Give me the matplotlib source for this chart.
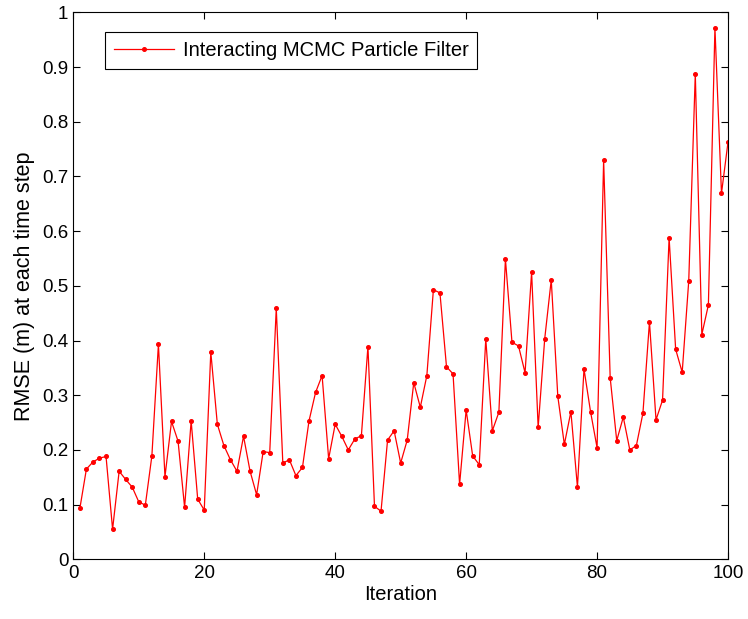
import matplotlib
matplotlib.use("Agg")
import matplotlib.pyplot as plt
import numpy as np

iterations = np.arange(1, 101)
rmse = [
    0.093, 0.165, 0.178, 0.185, 0.188, 0.055, 0.161, 0.146, 0.132, 0.105,
    0.099, 0.189, 0.393, 0.151, 0.252, 0.216, 0.095, 0.253, 0.110, 0.090,
    0.379, 0.247, 0.208, 0.182, 0.161, 0.225, 0.161, 0.118, 0.197, 0.195,
    0.459, 0.176, 0.182, 0.153, 0.168, 0.253, 0.305, 0.336, 0.184, 0.247,
    0.225, 0.200, 0.220, 0.226, 0.389, 0.097, 0.088, 0.218, 0.235, 0.176,
    0.218, 0.323, 0.278, 0.336, 0.493, 0.487, 0.352, 0.339, 0.137, 0.273,
    0.189, 0.173, 0.403, 0.235, 0.269, 0.549, 0.397, 0.390, 0.341, 0.525,
    0.241, 0.403, 0.511, 0.298, 0.210, 0.270, 0.132, 0.348, 0.270, 0.204,
    0.730, 0.332, 0.217, 0.260, 0.200, 0.208, 0.267, 0.434, 0.255, 0.291,
    0.588, 0.384, 0.342, 0.509, 0.888, 0.411, 0.465, 0.972, 0.669, 0.763,
]
x_ticks = [0, 20, 40, 60, 80, 100]
y_ticks = [0, 0.1, 0.2, 0.3, 0.4, 0.5, 0.6, 0.7, 0.8, 0.9, 1]
y_tick_labels = ["0", "0.1", "0.2", "0.3", "0.4", "0.5", "0.6", "0.7", "0.8", "0.9", "1"]

plt.rcParams["font.family"] = ["Liberation Sans", "DejaVu Sans"]

fig = plt.figure(figsize=(7.48, 6.19), dpi=100)
ax = fig.add_axes([0.098, 0.0964, 0.8753, 0.8837])

ax.plot(iterations, rmse, color="red", linewidth=0.9, marker="o",
        markersize=2.6, label="Interacting MCMC Particle Filter")

ax.set_xlim(0, 100)
ax.set_ylim(0, 1)
ax.set_xticks(x_ticks)
ax.set_yticks(y_ticks)
ax.set_yticklabels(y_tick_labels)
ax.tick_params(direction="in", top=True, right=True, labelsize=13.5, length=5, width=0.8)
ax.tick_params(axis="x", pad=4)
for spine in ax.spines.values():
    spine.set_linewidth(0.8)

ax.set_xlabel("Iteration", fontsize=14.5, labelpad=2)
ax.set_ylabel("RMSE (m) at each time step", fontsize=15.5, labelpad=5)

leg = ax.legend(loc="upper left", bbox_to_anchor=(0.0484, 0.964), borderaxespad=0,
                fontsize=14.5, fancybox=False, edgecolor="black", framealpha=1,
                handlelength=3, handletextpad=0.4, borderpad=0.45)
leg.get_frame().set_linewidth(0.8)

fig.savefig("out.png", dpi=100)
